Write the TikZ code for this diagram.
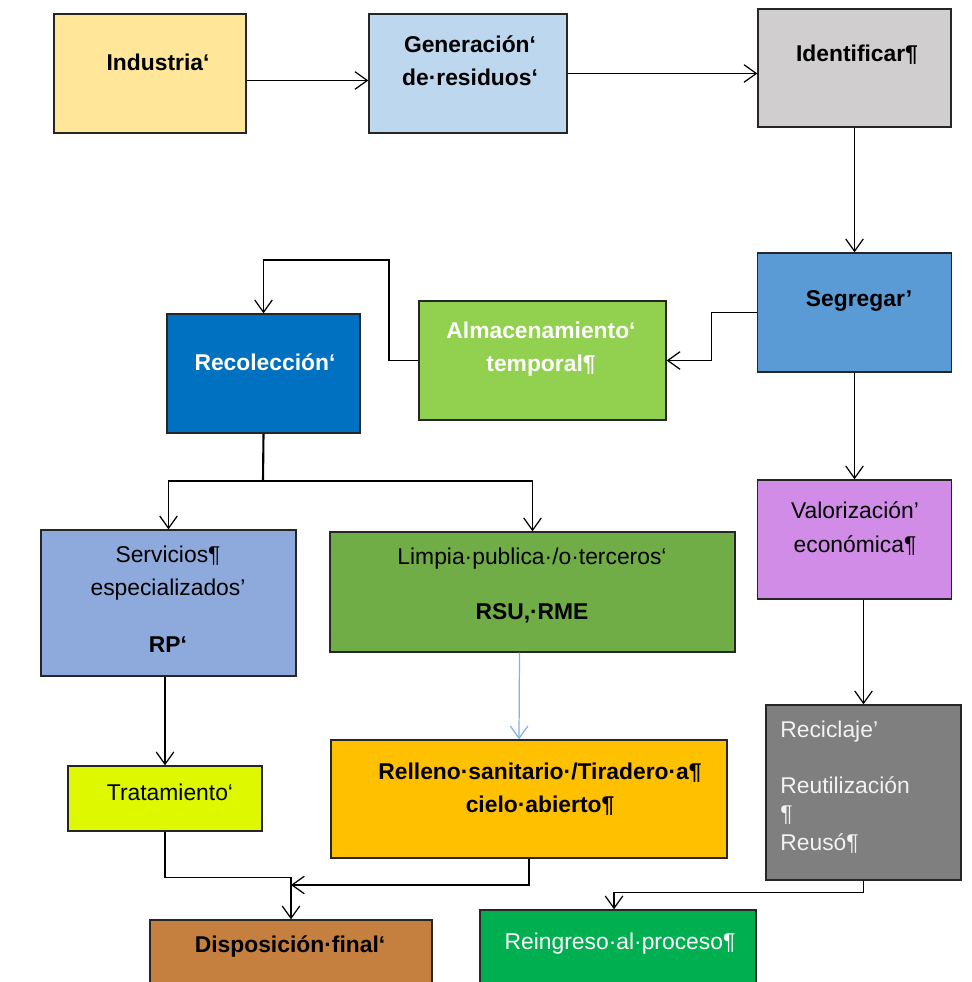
\documentclass[tikz,border=0pt]{standalone}
\usepackage{fontspec}
\setmainfont{Liberation Sans}
\usetikzlibrary{arrows.meta,calc}

\definecolor{cInd}{HTML}{FFE699}
\definecolor{cGen}{HTML}{BDD7EE}
\definecolor{cIdf}{HTML}{D0CECE}
\definecolor{cSeg}{HTML}{5B9BD5}
\definecolor{cAlm}{HTML}{92D050}
\definecolor{cRec}{HTML}{0070C0}
\definecolor{cServ}{HTML}{8EA9DB}
\definecolor{cLimp}{HTML}{70AD47}
\definecolor{cVal}{HTML}{D08CE6}
\definecolor{cReci}{HTML}{7F7F7F}
\definecolor{cTrat}{HTML}{DEF800}
\definecolor{cRell}{HTML}{FFC000}
\definecolor{cDisp}{HTML}{C58040}
\definecolor{cRein}{HTML}{00B050}
\definecolor{cLink}{HTML}{7FB2E5}

\begin{document}
\begin{tikzpicture}[x=0.02cm, y=-0.02cm,
    box/.style={draw=black!85, line width=0.8pt, inner sep=0pt},
    lbl/.style={font=\fontsize{13}{19}\selectfont\bfseries, align=center, inner sep=0pt},
    lblr/.style={font=\fontsize{13}{19}\selectfont, align=center, inner sep=0pt},
    arr/.style={-{Straight Barb[length=7pt,width=10pt]}, line width=0.7pt}]
    \useasboundingbox (0,0) rectangle (971,982);
    \clip (0,0) rectangle (971,982);

    % boxes
    \node[box, fill=cInd, minimum width=3.84cm, minimum height=2.38cm] (ind) at (150,73.5) {};
    \node[box, fill=cGen, minimum width=3.96cm, minimum height=2.38cm] (gen) at (468,73.5) {};
    \node[box, fill=cIdf, minimum width=3.86cm, minimum height=2.36cm] (idf) at (854.5,68) {};
    \node[box, fill=cSeg, minimum width=3.88cm, minimum height=2.38cm] (seg) at (854.5,312.5) {};
    \node[box, fill=cAlm, minimum width=4.94cm, minimum height=2.38cm] (alm) at (542.5,360.5) {};
    \node[box, fill=cRec, minimum width=3.86cm, minimum height=2.38cm] (rec) at (263.5,373.5) {};
    \node[box, fill=cServ, minimum width=5.10cm, minimum height=2.92cm] (serv) at (168.5,603) {};
    \node[box, fill=cLimp, minimum width=8.10cm, minimum height=2.40cm] (limp) at (532.5,592) {};
    \node[box, fill=cVal, minimum width=3.88cm, minimum height=2.38cm] (val) at (854.5,539.5) {};
    \node[box, fill=cReci, minimum width=3.90cm, minimum height=3.50cm] (reci) at (863.5,792.5) {};
    \node[box, fill=cTrat, minimum width=3.88cm, minimum height=1.30cm] (trat) at (165,798.5) {};
    \node[box, fill=cRell, minimum width=7.92cm, minimum height=2.36cm] (rell) at (529,799) {};
    \node[box, fill=cDisp, minimum width=5.64cm, minimum height=1.60cm] (disp) at (291,960) {};
    \node[box, fill=cRein, minimum width=5.52cm, minimum height=1.60cm] (rein) at (618,950) {};

    % texts
    \node[lbl] (indT) at (158,62) {Industria‘};
    \node[lbl] (genT) at (470,61) {Generación‘\\ de·residuos‘};
    \node[lbl] (idfT) at (857,55) {Identificar¶};
    \node[lbl] (segT) at (859,301) {Segregar'};
    \node[lbl, text=white] (almT) at (541,349) {Almacenamiento‘\\ temporal¶};
    \node[lbl, text=white] (recT) at (265,362) {Recolección‘};
    \node[lblr] (servT) at (168,599) {Servicios¶\\ especializados'\\[13pt] \textbf{RP‘}};
    \node[lblr] (limpT) at (532,585.5) {Limpia·publica·/o·terceros‘\\[12pt] \textbf{RSU,·RME}};
    \node[lblr] (valT) at (855,528.5) {Valorización'\\ económica¶};
    \node[lblr, font=\fontsize{13}{16}\selectfont, align=left, text=white!95!black, anchor=west] (reciT) at (780,787) {Reciclaje'\\[16pt] Reutilización\\ ¶\\ Reusó¶};
    \node[lblr] (tratT) at (170,792) {Tratamiento‘};
    \node[lbl] (rellT) at (540,789) {Relleno·sanitario·/Tiradero·a¶\\ cielo·abierto¶};
    \node[lbl] (dispT) at (290,946) {Disposición·final‘};
    \node[lblr, text=white] (reinT) at (620,944) {Reingreso·al·proceso¶};

    % connectors
    \coordinate (almUp) at (389,260);
    \coordinate (split) at (263,481);
    \coordinate (dispIn) at (291,885);
    \draw[arr] ($(ind.east)+(0,7)$) -- ($(gen.west)+(0,7)$);
    \draw[arr] (gen.east) -- (gen.east -| idf.west);
    \draw[arr] (idf.south) -- (seg.north);
    \draw[arr] (seg.west) -- ++(-45,0) |- (alm.east);
    \draw[arr] (alm.west) -| (almUp) -| (rec.north);
    \draw[line width=1.2pt] (rec.south) -- (split);
    \draw[arr] (split) -| (serv.north);
    \draw[arr] (split) -| (limp.north);
    \draw[arr] (seg.south) -- (val.north);
    \draw[arr] (val.south -| reci.north) -- (reci.north);
    \draw[arr, cLink] ($(limp.south)+(-13,0)$) -- ($(rell.north)+(-10,0)$);
    \draw[arr] (serv.south -| trat.north) -- (trat.north);
    \draw[arr] (trat.south) -- ++(0,46) -| (disp.north);
    \draw[arr] (rell.south) |- (dispIn);
    \draw[arr] (reci.south) -- ++(0,12) -| ($(rein.north)+(-4,0)$);
\end{tikzpicture}
\end{document}
